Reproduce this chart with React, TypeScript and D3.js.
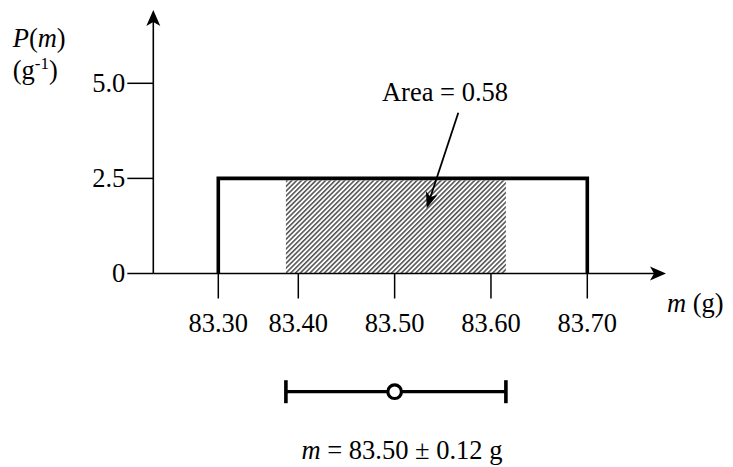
import React from "react";
import * as d3 from "d3";

// ---- data ----
const xTicks = [83.3, 83.4, 83.5, 83.6, 83.7];
const xTickLabels = ["83.30", "83.40", "83.50", "83.60", "83.70"];
const yTicks = [0, 2.5, 5.0];
const yTickLabels = ["0", "2.5", "5.0"];
const uniformRange = [83.3, 83.7];
const density = [2.5];
const meanValue = [83.5];
const sigmaValue = [0.1155];
const areaLabel = "Area = 0.58";
const resultLabel = "m = 83.50 ± 0.12 g";

const W = 733;
const H = 467;
const FONT = "'Liberation Serif', 'Times New Roman', serif";
const FS = 26.5;

// schematic (not-to-scale) axis: piecewise linear as in the drawing
const x = d3.scaleLinear().domain([83.3, 83.4, 83.7]).range([218.3, 298.3, 587.3]);
const y = d3.scaleLinear().domain([0, 5]).range([273.5, 83.3]);

const axisX0 = 153.3;
const axisY0 = y(0);
const xArrowTip = 666;
const yArrowTip = 10;

function arrowHead(tx: number, ty: number, angleDeg: number, len: number, wid: number) {
  const a = (angleDeg * Math.PI) / 180;
  const ux = Math.cos(a), uy = Math.sin(a);
  const px = -uy, py = ux;
  const bx = tx - ux * len, by = ty - uy * len;
  const nx = tx - ux * len * 0.75, ny = ty - uy * len * 0.75;
  const p = d3.path();
  p.moveTo(tx, ty);
  p.lineTo(bx + px * wid / 2, by + py * wid / 2);
  p.lineTo(nx, ny);
  p.lineTo(bx - px * wid / 2, by - py * wid / 2);
  p.closePath();
  return p.toString();
}

export default function App() {
  const m = meanValue[0];
  const s = sigmaValue[0];
  const d = density[0];

  const step = d3.line<[number, number]>()([
    [x(uniformRange[0]), y(0)],
    [x(uniformRange[0]), y(d)],
    [x(uniformRange[1]), y(d)],
    [x(uniformRange[1]), y(0)],
  ]) as string;

  const hx0 = x(m - s);
  const hx1 = x(m + s);
  const hy0 = y(d) + 2;
  const hy1 = y(0);

  const ebY = 391.7;

  const a0: [number, number] = [458.3, 112.7];
  const a1: [number, number] = [426.7, 208.3];
  const ang = (Math.atan2(a1[1] - a0[1], a1[0] - a0[0]) * 180) / Math.PI;
  const aLen = 16;
  const aRad = (ang * Math.PI) / 180;
  const aLineEnd: [number, number] = [a1[0] - Math.cos(aRad) * aLen * 0.7, a1[1] - Math.sin(aRad) * aLen * 0.7];

  return (
    <svg width={W} height={H} style={{ position: "absolute", left: 0, top: 0, background: "#fff" }} fontFamily={FONT}>
      <defs>
        <pattern id="hatch" patternUnits="userSpaceOnUse" width="3.4" height="3.4" patternTransform="rotate(45)">
          <rect width="3.4" height="3.4" fill="#fff" />
          <line x1="0.8" y1="0" x2="0.8" y2="3.4" stroke="#4a4a4a" strokeWidth="1.5" />
        </pattern>
      </defs>

      {/* hatched area */}
      <rect x={hx0} y={hy0} width={hx1 - hx0} height={hy1 - hy0} fill="url(#hatch)" />

      {/* axes */}
      <line x1={axisX0} y1={axisY0} x2={xArrowTip - 10} y2={axisY0} stroke="#000" strokeWidth={1.6} />
      <path d={arrowHead(xArrowTip, axisY0, 0, 16, 14)} fill="#000" />
      <line x1={axisX0} y1={axisY0} x2={axisX0} y2={yArrowTip + 10} stroke="#000" strokeWidth={1.6} />
      <path d={arrowHead(axisX0, yArrowTip, -90, 16, 14)} fill="#000" />

      {/* uniform distribution */}
      <path d={step} fill="none" stroke="#000" strokeWidth={3.6} strokeLinejoin="miter" />

      {/* x ticks */}
      {xTicks.map((t, i) => (
        <g key={"xt" + i}>
          <line x1={x(t)} y1={axisY0} x2={x(t)} y2={axisY0 + 25} stroke="#000" strokeWidth={1.5} />
          <text x={x(t)} y={axisY0 + 58.2} fontSize={FS} textAnchor="middle" fill="#000">
            {xTickLabels[i]}
          </text>
        </g>
      ))}

      {/* y ticks */}
      {yTicks.map((t, i) => (
        <g key={"yt" + i}>
          <line x1={axisX0 - 26} y1={y(t)} x2={axisX0} y2={y(t)} stroke="#000" strokeWidth={1.5} />
          <text x={axisX0 - 28} y={y(t)} dy="0.33em" fontSize={FS} textAnchor="end" fill="#000">
            {yTickLabels[i]}
          </text>
        </g>
      ))}

      {/* axis labels */}
      <text x={12.7} y={46.7} fontSize={FS} fill="#000">
        <tspan fontStyle="italic">P</tspan>(<tspan fontStyle="italic">m</tspan>)
      </text>
      <text x={12.7} y={79} fontSize={FS} fill="#000">
        (g<tspan fontSize={17} dy={-10}>-1</tspan><tspan dy={10}>)</tspan>
      </text>
      <text x={667} y={311.7} fontSize={FS} fill="#000">
        <tspan fontStyle="italic">m</tspan> (g)
      </text>

      {/* annotation */}
      <text x={445} y={100.7} fontSize={FS} textAnchor="middle" fill="#000">
        {areaLabel}
      </text>
      <line x1={a0[0]} y1={a0[1]} x2={aLineEnd[0]} y2={aLineEnd[1]} stroke="#000" strokeWidth={1.8} />
      <path d={arrowHead(a1[0], a1[1], ang, 16, 12)} fill="#000" />

      {/* error bar */}
      <line x1={x(m - s)} y1={ebY} x2={x(m + s)} y2={ebY} stroke="#000" strokeWidth={3.2} />
      <line x1={x(m - s)} y1={ebY - 11.5} x2={x(m - s)} y2={ebY + 11.5} stroke="#000" strokeWidth={3.6} />
      <line x1={x(m + s)} y1={ebY - 11.5} x2={x(m + s)} y2={ebY + 11.5} stroke="#000" strokeWidth={3.6} />
      <circle cx={x(m)} cy={ebY} r={6.8} fill="#fff" stroke="#000" strokeWidth={3.2} />

      {/* result */}
      <text x={402} y={459} fontSize={FS} textAnchor="middle" fill="#000">
        <tspan fontStyle="italic">m</tspan>
        {resultLabel.slice(1)}
      </text>
    </svg>
  );
}
